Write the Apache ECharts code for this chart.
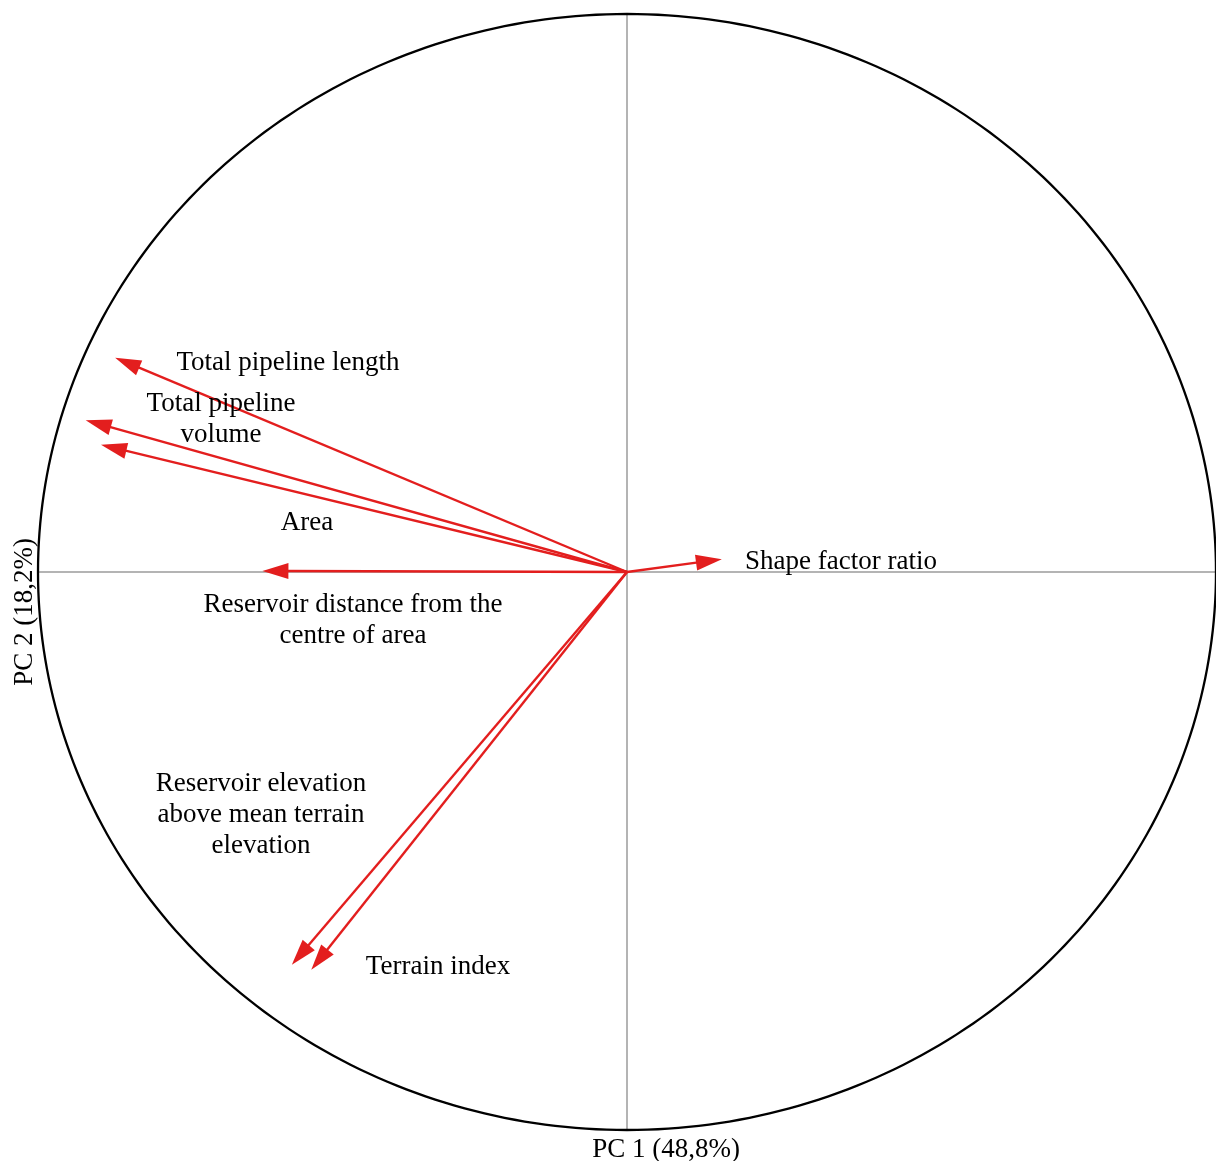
<!DOCTYPE html>
<html>
<head>
<meta charset="utf-8">
<style>
  html, body { margin: 0; padding: 0; background: #ffffff; }
  #chart { width: 1216px; height: 1161px; }
</style>
<script src="https://cdn.jsdelivr.net/npm/echarts@6/dist/echarts.min.js"></script>
</head>
<body>
<div id="chart"></div>
<script>
// PCA loadings of the network descriptors on the first two components
const variables = [
  'Total pipeline length',
  'Total pipeline volume',
  'Area',
  'Reservoir distance from the centre of area',
  'Shape factor ratio',
  'Reservoir elevation above mean terrain elevation',
  'Terrain index'
];
const pc1 = [-0.869, -0.919, -0.893, -0.619, 0.161, -0.569, -0.536];
const pc2 = [0.384, 0.272, 0.228, 0.002, 0.023, -0.704, -0.713];

// Label texts as they are broken over lines
const labelTexts = [
  'Total pipeline length',
  'Total pipeline\nvolume',
  'Area',
  'Reservoir distance from the\ncentre of area',
  'Shape factor ratio',
  'Reservoir elevation\nabove mean terrain\nelevation',
  'Terrain index'
];
const axisTitleX = 'PC 1 (48,8%)';
const axisTitleY = 'PC 2 (18,2%)';

// Label anchor points (pixel centres)
const labelCenters = [
  [288, 363], [221, 419], [307, 523], [353, 620],
  [841, 562], [261, 815], [438, 967]
];

const FONT = '"Liberation Serif", "Times New Roman", serif';
const RED = '#e31e1e';

const chart = echarts.init(document.getElementById('chart'), null, { renderer: 'canvas' });

const loadings = pc1.map((x, i) => [x, pc2[i], i]);

const option = {
  animation: false,
  backgroundColor: '#ffffff',
  grid: { left: 38, top: 14, width: 1182, height: 1116 },
  xAxis: {
    type: 'value', min: -1, max: 1, interval: 1,
    axisLine: { show: true, onZero: true, lineStyle: { color: '#b4b4b4', width: 2 } },
    axisTick: { show: false }, axisLabel: { show: false }, splitLine: { show: false }
  },
  yAxis: {
    type: 'value', min: -1, max: 1, interval: 1,
    axisLine: { show: true, onZero: true, lineStyle: { color: '#b4b4b4', width: 2 } },
    axisTick: { show: false }, axisLabel: { show: false }, splitLine: { show: false }
  },
  series: [
    {
      // unit correlation circle
      type: 'custom',
      silent: true,
      data: [[0, 0]],
      renderItem: function (params, api) {
        const pts = [];
        for (let k = 0; k <= 360; k++) {
          const a = k * Math.PI / 180;
          pts.push(api.coord([Math.cos(a), Math.sin(a)]));
        }
        return {
          type: 'polyline',
          shape: { points: pts },
          style: { stroke: '#000000', lineWidth: 2.3, fill: null }
        };
      }
    },
    {
      // loading vectors
      type: 'custom',
      silent: true,
      data: loadings,
      renderItem: function (params, api) {
        const o = api.coord([0, 0]);
        const t = api.coord([api.value(0), api.value(1)]);
        const dx = t[0] - o[0], dy = t[1] - o[1];
        const len = Math.sqrt(dx * dx + dy * dy);
        const ux = dx / len, uy = dy / len;
        const hl = 26, hw = 8;
        const bx = t[0] - ux * hl, by = t[1] - uy * hl;
        const px = -uy, py = ux;
        return {
          type: 'group',
          children: [
            {
              type: 'line',
              shape: { x1: o[0], y1: o[1], x2: bx + ux * 4, y2: by + uy * 4 },
              style: { stroke: RED, lineWidth: 2.4 }
            },
            {
              type: 'polygon',
              shape: { points: [
                [t[0], t[1]],
                [bx + px * hw, by + py * hw],
                [bx - px * hw, by - py * hw]
              ] },
              style: { fill: RED }
            }
          ]
        };
      }
    }
  ],
  graphic: labelTexts.map((txt, i) => ({
    type: 'text',
    x: labelCenters[i][0],
    y: labelCenters[i][1],
    z: 100,
    style: {
      text: txt,
      font: '27px ' + FONT,
      fill: '#000000',
      align: 'center',
      verticalAlign: 'middle',
      lineHeight: 31
    }
  })).concat([
    {
      type: 'text', x: 666, y: 1150, z: 100,
      style: { text: axisTitleX, font: '27px ' + FONT, fill: '#000000', align: 'center', verticalAlign: 'middle' }
    },
    {
      type: 'text', x: 25, y: 612, rotation: Math.PI / 2, z: 100,
      style: { text: axisTitleY, font: '27px ' + FONT, fill: '#000000', align: 'center', verticalAlign: 'middle' }
    }
  ])
};

chart.setOption(option);
</script>
</body>
</html>
